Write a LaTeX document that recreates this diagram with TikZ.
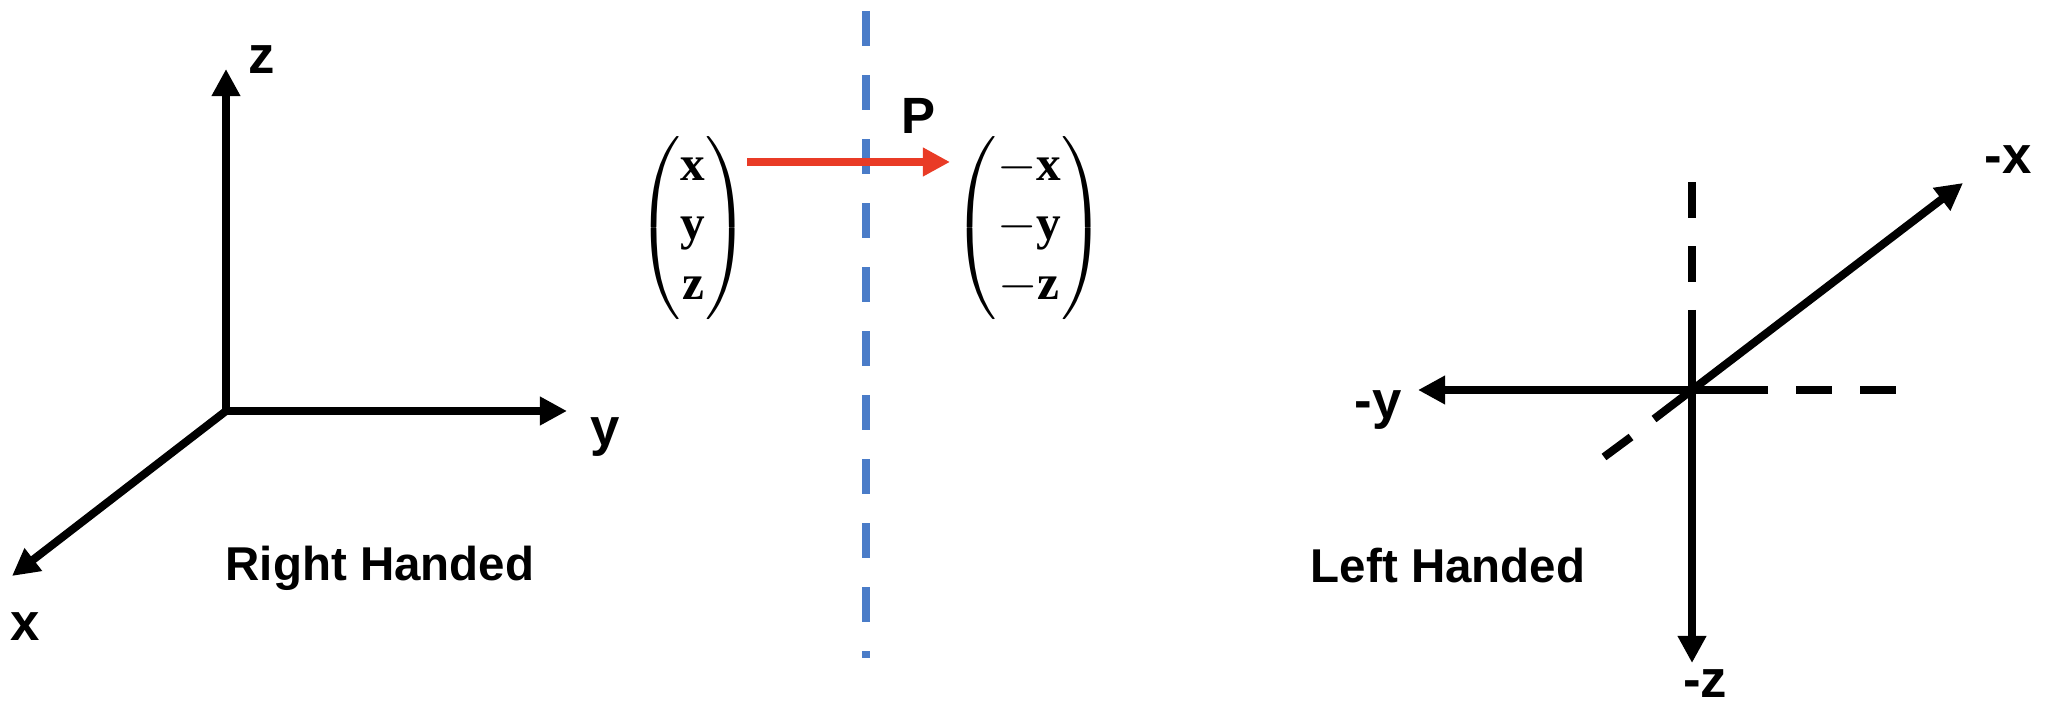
\documentclass[tikz,border=0pt]{standalone}
\usepackage{amsmath}
\usepackage{fontspec}
\newfontfamily\labelfont{Liberation Sans}
\newfontfamily\vecfont{Liberation Serif}
\usetikzlibrary{arrows.meta}

\definecolor{mirrorblue}{RGB}{74,124,200}
\definecolor{mapred}{RGB}{233,59,38}

\newcommand{\vbold}[1]{\text{\vecfont\bfseries #1}}

\tikzset{
  axis/.style={line width=0.08cm, -{Triangle[length=0.27cm,width=0.27cm]}},
  axisline/.style={line width=0.08cm},
  axisdash/.style={line width=0.08cm, dash pattern=on 0.36cm off 0.28cm},
  mirror/.style={mirrorblue, line width=0.08cm, dash pattern=on 0.35cm off 0.29cm},
  mapto/.style={mapred, line width=0.08cm, -{Triangle[length=0.27cm,width=0.27cm]}},
  axislabel/.style={font=\labelfont\bfseries\fontsize{15}{18}\selectfont, inner sep=0pt},
  caption/.style={font=\labelfont\bfseries\fontsize{13.5}{16}\selectfont, inner sep=0pt},
  plabel/.style={font=\labelfont\bfseries\fontsize{14.5}{17}\selectfont, inner sep=0pt},
  vec/.style={font=\fontsize{14}{17}\selectfont, inner sep=0pt},
}

\begin{document}
\begin{tikzpicture}[x=0.01cm, y=-0.01cm]
  \useasboundingbox (0,0) rectangle (2049,707);

  % Right handed frame
  \coordinate (rO) at (226,411);
  \coordinate (rZ) at (226,69);
  \coordinate (rY) at (567,411);
  \coordinate (rX) at (12,576);
  \draw[axis] (rO) -- (rZ);   % z
  \draw[axis] (rO) -- (rY);   % y
  \draw[axis] (rO) -- (rX);   % x

  \node[axislabel] (rzlab) at (262,60) {z};
  \node[axislabel] (rylab) at (605,437) {y};
  \node[axislabel] (rxlab) at (25,627) {x};
  \node[caption] (rcap) at (380,568) {Right Handed};

  % Mirror plane
  \coordinate (mtop) at (866,11);
  \coordinate (mbot) at (866,658);
  \draw[mirror] (mtop) -- (mbot);

  % Vectors and parity map
  \node[vec] (vin) at (693,228)
    {$\begin{pmatrix}\vbold{x}\\ \vbold{y}\\ \vbold{z}\end{pmatrix}$};
  \node[vec] (vout) at (1029,228)
    {$\begin{pmatrix}-\vbold{x}\\ -\vbold{y}\\ -\vbold{z}\end{pmatrix}$};
  \coordinate (pfrom) at (747,162);
  \coordinate (pto) at (950,162);
  \draw[mapto] (pfrom) -- (pto);
  \node[plabel] (plab) at (918,116) {P};

  % Left handed frame
  \coordinate (lO) at (1692,390);
  \coordinate (lX) at (1963,183);
  \coordinate (lY) at (1418,390);
  \coordinate (lZ) at (1692,663);
  \coordinate (lzs) at (1692,310);   % solid ends
  \coordinate (lys) at (1768,390);
  \coordinate (lxs) at (1654,419);
  \draw[axis] (lzs) -- (lZ);   % -z
  \draw[axis] (lys) -- (lY);   % -y
  \draw[axis] (lxs) -- (lX);   % -x

  % hidden halves
  \coordinate (lzd1) at (1692,282);
  \coordinate (lzd2) at (1692,182);
  \coordinate (lyd1) at (1796,390);
  \coordinate (lyd2) at (1896,390);
  \coordinate (lxd1) at (1631,437);
  \coordinate (lxd2) at (1604,457);
  \draw[axisdash] (lzd1) -- (lzd2);
  \draw[axisdash] (lyd1) -- (lyd2);
  \draw[axisline] (lxd1) -- (lxd2);

  \node[axislabel] (lxlab) at (2008,160) {-x};
  \node[axislabel] (lylab) at (1378,410) {-y};
  \node[axislabel] (lzlab) at (1705,684) {-z};
  \node[caption] (lcap) at (1448,566) {Left Handed};
\end{tikzpicture}
\end{document}
